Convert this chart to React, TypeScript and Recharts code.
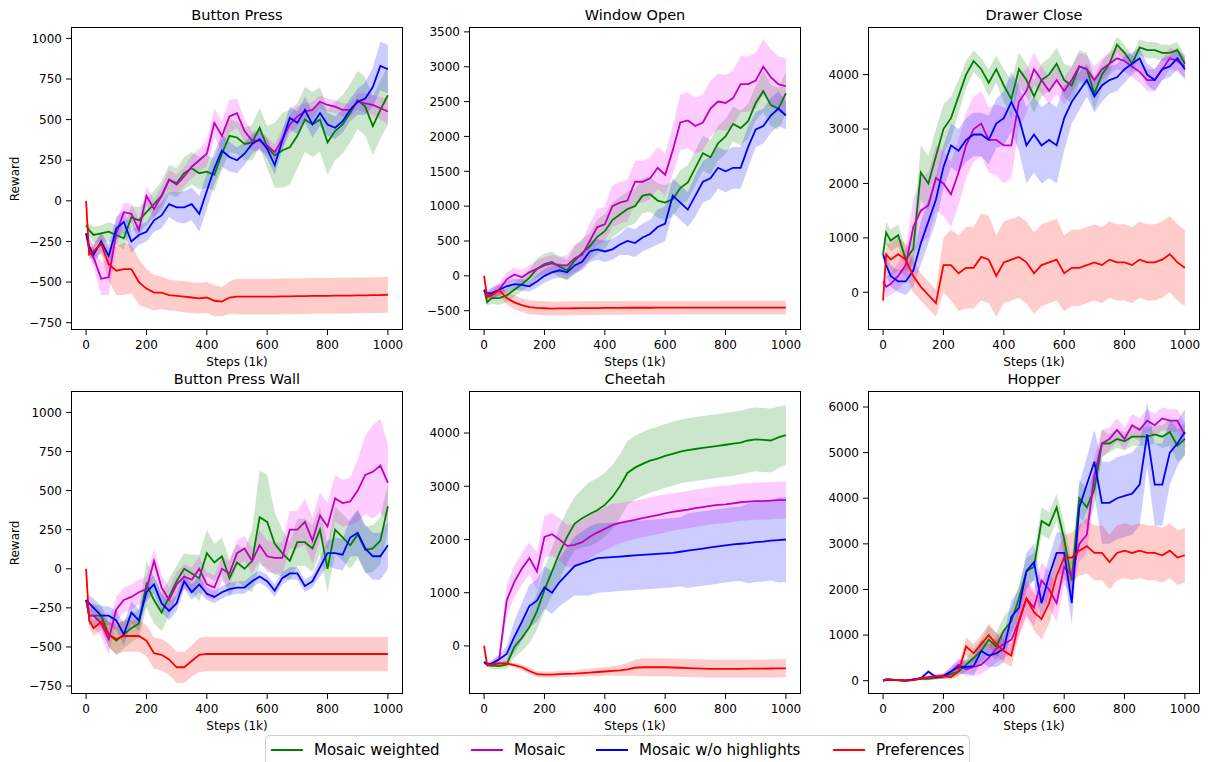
import React from "react";
import { ComposedChart, Line, Area, XAxis, YAxis } from "recharts";

const FONT = "'DejaVu Sans', sans-serif";

// x positions shared by every panel (steps in 1k)
const steps = [
  0, 10,
  25, 50, 75, 100, 125, 150, 175, 200, 225, 250,
  275, 300, 325, 350, 375, 400, 425, 450, 475, 500,
  525, 550, 575, 600, 625, 650, 675, 700, 725, 750,
  775, 800, 825, 850, 875, 900, 925, 950, 975, 1000,
];
const xTicks = [0, 200, 400, 600, 800, 1000];

// ---- Button Press ----
const bpGreen = [-150, -180, -210, -200, -190, -210, -230, -100, -120, -70, -20, 30, 130, 110, 170, 200, 170, 180, 160, 290, 400, 390, 350, 360, 450, 330, 280, 310, 330, 400, 500, 470, 500, 360, 430, 470, 540, 620, 580, 460, 560, 650];
const bpGreenSd = [0, 40, 50, 50, 60, 60, 70, 70, 80, 80, 80, 90, 90, 90, 100, 100, 100, 100, 100, 100, 100, 100, 100, 110, 120, 130, 200, 230, 230, 200, 200, 200, 200, 200, 180, 180, 180, 180, 180, 180, 180, 180];
const bpMosaic = [-200, -300, -350, -480, -470, -200, -70, -80, -180, 30, -50, 30, 130, 100, 150, 210, 250, 290, 480, 400, 520, 540, 430, 370, 370, 340, 300, 380, 470, 520, 550, 560, 610, 590, 580, 560, 560, 610, 600, 590, 570, 550];
const bpMosaicSd = [0, 30, 60, 100, 110, 80, 60, 60, 70, 60, 60, 60, 60, 60, 60, 70, 70, 80, 90, 90, 100, 90, 70, 60, 60, 50, 50, 60, 60, 60, 50, 50, 40, 40, 40, 40, 40, 50, 60, 60, 70, 80];
const bpBlue = [-200, -280, -330, -250, -340, -170, -130, -250, -210, -190, -120, -90, -20, -40, -40, -20, -80, 60, 200, 310, 270, 250, 290, 350, 380, 320, 220, 370, 510, 480, 560, 470, 540, 470, 450, 490, 560, 610, 630, 700, 830, 810];
const bpBlueSd = [0, 40, 60, 60, 70, 70, 70, 70, 60, 60, 70, 80, 80, 90, 100, 100, 110, 110, 100, 100, 90, 80, 70, 60, 60, 60, 60, 60, 70, 70, 80, 80, 80, 70, 70, 70, 70, 80, 100, 120, 150, 150];
const bpPref = [0, -330, -310, -265, -390, -430, -420, -420, -500, -540, -565, -565, -580, -585, -590, -595, -600, -595, -615, -620, -595, -590, -590, -590, -590, -590, -590, -588, -588, -586, -586, -585, -585, -585, -584, -584, -583, -582, -582, -580, -580, -578];
const bpPrefSd = [0, 30, 40, 60, 100, 150, 160, 150, 140, 120, 110, 100, 95, 95, 95, 95, 95, 95, 95, 90, 100, 110, 110, 110, 110, 110, 110, 110, 110, 110, 110, 110, 110, 110, 110, 110, 110, 110, 110, 110, 110, 110];

// ---- Window Open ----
const woGreen = [-200, -380, -320, -320, -280, -200, -120, -30, 100, 170, 200, 130, 80, 220, 330, 420, 560, 640, 800, 880, 960, 1000, 1150, 1170, 1080, 1050, 1100, 1260, 1340, 1550, 1760, 1700, 1900, 2000, 2180, 2120, 2220, 2480, 2650, 2450, 2400, 2620];
const woGreenSd = [0, 50, 80, 100, 100, 100, 100, 120, 150, 150, 150, 150, 150, 200, 200, 200, 250, 250, 250, 250, 250, 250, 250, 250, 250, 250, 250, 250, 250, 250, 250, 250, 250, 250, 250, 250, 250, 250, 300, 300, 300, 300];
const woMosaic = [-200, -300, -250, -200, -50, 20, -20, 50, 100, 150, 180, 150, 150, 250, 300, 500, 700, 740, 1000, 1050, 1080, 1350, 1350, 1400, 1550, 1450, 1800, 2200, 2230, 2150, 2200, 2400, 2500, 2480, 2550, 2750, 2750, 2800, 3000, 2850, 2750, 2720];
const woMosaicSd = [0, 50, 80, 100, 100, 100, 100, 100, 120, 120, 120, 120, 150, 200, 200, 250, 250, 250, 300, 300, 300, 300, 300, 300, 300, 300, 350, 400, 400, 400, 400, 400, 400, 400, 400, 400, 400, 400, 400, 400, 400, 400];
const woBlue = [-200, -250, -250, -200, -150, -120, -130, -150, -80, 0, 50, 80, 50, 150, 200, 350, 380, 350, 380, 450, 500, 470, 550, 600, 700, 750, 1150, 1050, 950, 1150, 1350, 1400, 1550, 1500, 1550, 1550, 1850, 2100, 2150, 2300, 2400, 2300];
const woBlueSd = [0, 50, 80, 80, 80, 80, 80, 80, 90, 100, 100, 100, 100, 120, 120, 150, 150, 150, 150, 150, 200, 200, 200, 200, 250, 250, 250, 250, 250, 300, 300, 300, 300, 300, 300, 300, 300, 250, 250, 250, 250, 200];
const woPref = [0, -300, -280, -206, -320, -380, -420, -450, -460, -465, -470, -468, -466, -465, -463, -462, -462, -460, -460, -460, -458, -458, -458, -458, -457, -457, -457, -456, -456, -456, -456, -456, -456, -455, -455, -455, -455, -455, -455, -455, -455, -455];
const woPrefSd = [0, 40, 60, 80, 90, 100, 100, 100, 100, 100, 100, 100, 100, 100, 100, 100, 100, 100, 100, 100, 100, 100, 100, 100, 100, 100, 100, 100, 100, 100, 100, 100, 100, 100, 100, 100, 100, 100, 100, 100, 100, 100];

// ---- Drawer Close ----
const dcGreen = [700, 1100, 950, 1050, 600, 800, 2200, 2000, 2500, 3000, 3200, 3600, 4000, 4250, 4100, 3850, 4100, 3800, 3550, 4100, 3900, 3600, 3900, 4000, 4200, 3900, 3800, 4150, 4100, 3650, 4000, 4200, 4550, 4400, 4200, 4500, 4450, 4450, 4400, 4400, 4450, 4200];
const dcGreenSd = [0, 200, 200, 200, 200, 300, 500, 500, 500, 450, 400, 300, 250, 200, 200, 250, 250, 300, 350, 300, 300, 300, 300, 300, 300, 300, 350, 300, 300, 300, 250, 200, 150, 150, 150, 150, 150, 150, 150, 150, 150, 150];
const dcMosaic = [200, 100, 150, 300, 500, 1200, 1500, 1600, 2100, 2000, 1800, 2200, 2700, 3000, 3100, 2800, 2800, 2700, 2700, 3500, 3700, 4100, 3900, 3700, 3900, 3700, 3900, 4150, 4100, 3900, 4100, 4200, 4300, 4250, 4150, 4050, 3900, 3900, 4100, 4300, 4250, 4150];
const dcMosaicSd = [0, 200, 200, 250, 300, 500, 600, 600, 600, 600, 600, 600, 600, 600, 600, 600, 650, 700, 600, 500, 400, 300, 250, 250, 250, 250, 250, 250, 250, 250, 200, 200, 200, 200, 200, 200, 200, 200, 200, 200, 200, 200];
const dcBlue = [700, 500, 300, 200, 200, 400, 900, 1300, 1700, 2300, 2700, 2600, 2800, 2900, 2900, 2800, 3100, 3200, 3500, 3200, 2700, 2900, 2700, 2800, 2700, 3200, 3500, 3700, 3900, 3600, 3800, 3900, 3950, 4100, 4200, 4300, 4000, 3900, 4100, 4150, 4300, 4100];
const dcBlueSd = [0, 200, 200, 200, 250, 300, 400, 400, 400, 400, 400, 400, 400, 400, 400, 450, 450, 500, 550, 600, 700, 700, 700, 700, 700, 600, 400, 350, 300, 300, 300, 250, 250, 250, 200, 200, 200, 200, 200, 200, 200, 200];
const dcPref = [-150, 700, 600, 700, 600, 300, 100, -50, -200, 500, 500, 350, 450, 450, 650, 600, 300, 550, 600, 650, 550, 350, 500, 550, 600, 350, 450, 450, 500, 550, 500, 600, 550, 550, 500, 600, 550, 550, 600, 700, 550, 450];
const dcPrefSd = [0, 200, 300, 300, 300, 300, 250, 250, 250, 500, 650, 700, 750, 750, 800, 800, 750, 750, 750, 750, 750, 750, 750, 750, 750, 700, 700, 700, 700, 700, 700, 700, 700, 700, 700, 700, 700, 700, 700, 700, 700, 700];

// ---- Button Press Wall ----
const bwGreen = [-200, -300, -300, -300, -420, -460, -420, -380, -350, -100, -200, -280, -180, -80, 0, -30, -60, 100, 40, 80, -60, 40, 0, 50, 330, 300, 160, 100, 50, 170, 170, 130, 250, 0, 250, 200, 150, 220, 120, 130, 180, 400];
const bwGreenSd = [0, 50, 70, 70, 80, 90, 90, 90, 90, 150, 150, 120, 120, 100, 100, 120, 150, 150, 120, 120, 120, 120, 120, 200, 300, 300, 200, 150, 120, 150, 150, 150, 150, 150, 150, 150, 150, 150, 150, 150, 150, 150];
const bwMosaic = [-200, -300, -300, -350, -450, -260, -200, -180, -150, -130, 50, -120, -200, -100, -50, -70, 0, -100, -120, 0, -30, 100, 130, 50, 150, 80, 70, 70, 250, 250, 300, 180, 340, 270, 450, 420, 430, 500, 600, 620, 660, 550];
const bwMosaicSd = [0, 50, 80, 80, 100, 80, 80, 80, 80, 80, 80, 80, 80, 80, 80, 80, 80, 80, 80, 80, 80, 80, 80, 80, 100, 100, 100, 100, 120, 120, 150, 150, 150, 150, 150, 150, 150, 200, 250, 300, 300, 250];
const bwBlue = [-200, -220, -250, -300, -300, -330, -420, -280, -330, -150, -100, -220, -270, -220, -80, -150, -100, -160, -180, -150, -130, -120, -120, -80, -50, -80, -140, -60, -30, -30, -110, -80, 10, 100, 100, 90, 200, 230, 130, 80, 80, 150];
const bwBlueSd = [0, 50, 60, 60, 60, 60, 70, 70, 70, 60, 60, 60, 60, 50, 50, 50, 50, 40, 40, 40, 40, 40, 40, 40, 40, 40, 40, 40, 40, 40, 40, 40, 60, 80, 100, 100, 120, 150, 150, 150, 150, 150];
const bwPref = [0, -330, -380, -340, -420, -450, -430, -430, -430, -460, -540, -550, -580, -630, -630, -590, -550, -545, -545, -545, -545, -545, -545, -545, -545, -545, -545, -545, -545, -545, -545, -545, -545, -545, -545, -545, -545, -545, -545, -545, -545, -545];
const bwPrefSd = [0, 40, 50, 50, 80, 100, 100, 100, 100, 100, 100, 100, 100, 100, 100, 100, 110, 110, 110, 110, 110, 110, 110, 110, 110, 110, 110, 110, 110, 110, 110, 110, 110, 110, 110, 110, 110, 110, 110, 110, 110, 110];

// ---- Cheetah ----
const chGreen = [-300, -350, -370, -380, -350, -20, 150, 350, 650, 1050, 1400, 1750, 2050, 2300, 2400, 2480, 2550, 2650, 2800, 3000, 3250, 3350, 3420, 3480, 3520, 3570, 3610, 3650, 3680, 3700, 3720, 3740, 3760, 3780, 3800, 3820, 3860, 3880, 3870, 3860, 3920, 3960];
const chGreenSd = [0, 40, 60, 60, 80, 200, 250, 300, 350, 400, 450, 500, 500, 500, 550, 600, 600, 600, 600, 600, 600, 600, 600, 600, 600, 600, 600, 600, 600, 600, 600, 600, 600, 600, 600, 600, 600, 600, 600, 600, 580, 560];
const chMosaic = [-300, -350, -350, -250, 860, 1200, 1450, 1650, 1400, 2050, 2100, 2000, 1880, 1900, 1950, 2050, 2130, 2200, 2270, 2310, 2340, 2370, 2400, 2430, 2460, 2490, 2520, 2540, 2560, 2590, 2610, 2630, 2650, 2660, 2680, 2700, 2710, 2720, 2720, 2730, 2740, 2740];
const chMosaicSd = [0, 40, 50, 100, 300, 300, 300, 300, 350, 400, 400, 400, 400, 400, 400, 400, 400, 400, 400, 380, 370, 360, 360, 360, 360, 360, 350, 350, 350, 350, 350, 350, 350, 350, 350, 350, 350, 350, 350, 350, 350, 350];
const chBlue = [-300, -350, -330, -250, -150, 170, 450, 750, 850, 1100, 1000, 1200, 1350, 1500, 1550, 1600, 1650, 1660, 1670, 1680, 1690, 1700, 1710, 1720, 1730, 1740, 1750, 1770, 1790, 1810, 1830, 1850, 1870, 1890, 1910, 1920, 1930, 1950, 1960, 1980, 1990, 2000];
const chBlueSd = [0, 40, 60, 80, 150, 300, 350, 400, 400, 400, 400, 450, 500, 550, 600, 650, 650, 650, 650, 650, 650, 650, 650, 650, 650, 650, 650, 650, 700, 700, 700, 700, 700, 700, 700, 700, 750, 750, 750, 750, 800, 800];
const chPref = [0, -350, -350, -330, -330, -360, -400, -470, -530, -540, -540, -530, -525, -520, -510, -500, -490, -480, -470, -460, -440, -410, -400, -400, -400, -400, -405, -410, -415, -420, -425, -430, -430, -430, -430, -430, -428, -426, -425, -424, -422, -420];
const chPrefSd = [0, 30, 40, 40, 40, 40, 50, 60, 60, 60, 60, 60, 60, 60, 70, 70, 80, 80, 90, 100, 120, 150, 170, 170, 170, 170, 170, 170, 170, 170, 170, 170, 170, 170, 170, 170, 170, 170, 170, 170, 170, 170];

// ---- Hopper ----
const hpGreen = [0, 20, 20, 10, 0, 20, 40, 40, 60, 90, 150, 200, 350, 500, 650, 900, 750, 1100, 1300, 1800, 2400, 2500, 3500, 3400, 3800, 3100, 2200, 4000, 3800, 4200, 5200, 5200, 5300, 5250, 5350, 5350, 5350, 5400, 5350, 5450, 5150, 5300];
const hpGreenSd = [0, 20, 20, 20, 20, 20, 30, 30, 40, 50, 80, 100, 150, 200, 250, 300, 300, 300, 300, 300, 300, 300, 300, 300, 300, 350, 400, 400, 400, 400, 300, 200, 200, 200, 200, 200, 200, 200, 250, 300, 350, 350];
const hpMosaic = [0, 20, 20, 10, 0, 20, 60, 60, 80, 100, 200, 350, 250, 300, 350, 500, 700, 800, 900, 1300, 1800, 1600, 2200, 2000, 1700, 2500, 2300, 3000, 3200, 4500, 5200, 5300, 5500, 5300, 5600, 5500, 5700, 5600, 5750, 5700, 5700, 5400];
const hpMosaicSd = [0, 20, 20, 20, 20, 20, 30, 30, 40, 60, 100, 150, 150, 200, 200, 250, 300, 300, 300, 350, 400, 400, 400, 400, 400, 400, 400, 400, 400, 400, 300, 250, 250, 250, 250, 250, 250, 250, 250, 250, 250, 250];
const hpBlue = [0, 20, 20, 10, 0, 30, 50, 200, 80, 100, 200, 300, 300, 320, 650, 550, 600, 700, 1400, 1600, 2400, 2600, 1700, 2300, 2800, 2800, 1700, 3800, 4300, 4800, 3900, 3900, 4000, 4050, 4100, 4300, 5400, 4300, 4300, 5000, 5200, 5450];
const hpBlueSd = [0, 20, 20, 20, 20, 20, 30, 40, 40, 60, 100, 150, 150, 200, 250, 250, 300, 300, 350, 400, 400, 400, 400, 400, 450, 450, 450, 500, 600, 700, 900, 900, 900, 900, 900, 900, 700, 900, 900, 700, 500, 500];
const hpPref = [0, 30, 20, 10, 0, 10, 50, 80, 100, 100, 80, 200, 750, 600, 800, 1000, 800, 650, 550, 1300, 1800, 1500, 1350, 1700, 2300, 2700, 2700, 2850, 2950, 2800, 2800, 2600, 2800, 2850, 2800, 2850, 2800, 2800, 2750, 2850, 2700, 2750];
const hpPrefSd = [0, 20, 20, 20, 20, 20, 30, 40, 50, 50, 60, 100, 200, 200, 200, 250, 250, 250, 250, 300, 350, 400, 450, 450, 500, 500, 550, 550, 600, 600, 600, 600, 600, 600, 600, 600, 600, 600, 600, 600, 600, 600];

const COLORS = { g: "#008000", m: "#bf00bf", b: "#0000ff", r: "#ff0000" };
const BANDS = { g: "#008000", m: "#ff00ff", b: "#0000ff", r: "#ff0000" };

function buildRows(g, gs, m, ms, b, bs, r, rs) {
  return steps.map((x, i) => ({
    x,
    g: g[i], gb: [g[i] - gs[i], g[i] + gs[i]],
    m: m[i], mb: [m[i] - ms[i], m[i] + ms[i]],
    b: b[i], bb: [b[i] - bs[i], b[i] + bs[i]],
    r: r[i], rb: [r[i] - rs[i], r[i] + rs[i]],
  }));
}

const panels = [
  {
    title: "Button Press", ylabel: true,
    box: { x: 71, y: 27, w: 332, h: 303 },
    domain: [-795, 1070], ticks: [-750, -500, -250, 0, 250, 500, 750, 1000],
    rows: buildRows(bpGreen, bpGreenSd, bpMosaic, bpMosaicSd, bpBlue, bpBlueSd, bpPref, bpPrefSd),
  },
  {
    title: "Window Open", ylabel: false,
    box: { x: 469, y: 27, w: 332, h: 303 },
    domain: [-777, 3570], ticks: [-500, 0, 500, 1000, 1500, 2000, 2500, 3000, 3500],
    rows: buildRows(woGreen, woGreenSd, woMosaic, woMosaicSd, woBlue, woBlueSd, woPref, woPrefSd),
  },
  {
    title: "Drawer Close", ylabel: false,
    box: { x: 868, y: 27, w: 332, h: 303 },
    domain: [-693, 4875], ticks: [0, 1000, 2000, 3000, 4000],
    rows: buildRows(dcGreen, dcGreenSd, dcMosaic, dcMosaicSd, dcBlue, dcBlueSd, dcPref, dcPrefSd),
  },
  {
    title: "Button Press Wall", ylabel: true,
    box: { x: 71, y: 391, w: 332, h: 303 },
    domain: [-801, 1137], ticks: [-750, -500, -250, 0, 250, 500, 750, 1000],
    rows: buildRows(bwGreen, bwGreenSd, bwMosaic, bwMosaicSd, bwBlue, bwBlueSd, bwPref, bwPrefSd),
  },
  {
    title: "Cheetah", ylabel: false,
    box: { x: 469, y: 391, w: 332, h: 303 },
    domain: [-903, 4790], ticks: [0, 1000, 2000, 3000, 4000],
    rows: buildRows(chGreen, chGreenSd, chMosaic, chMosaicSd, chBlue, chBlueSd, chPref, chPrefSd),
  },
  {
    title: "Hopper", ylabel: false,
    box: { x: 868, y: 391, w: 332, h: 303 },
    domain: [-292, 6351], ticks: [0, 1000, 2000, 3000, 4000, 5000, 6000],
    rows: buildRows(hpGreen, hpGreenSd, hpMosaic, hpMosaicSd, hpBlue, hpBlueSd, hpPref, hpPrefSd),
  },
];

const minus = (v) => String(v).replace("-", "\u2212");
const tickStyle = { fill: "#000", fontSize: 12, fontFamily: FONT };

function Panel({ p }) {
  const { x, y, w, h } = p.box;
  return (
    <>
      <div style={{ position: "absolute", left: x - 60, top: y - 5 }}>
        <ComposedChart width={w + 65} height={h + 45} data={p.rows}
          margin={{ top: 5, right: 5, left: 0, bottom: 0 }}>
          <XAxis dataKey="x" type="number" domain={[-50, 1050]} ticks={xTicks}
            allowDataOverflow height={40} axisLine={false} tickSize={5} tickMargin={5}
            tick={tickStyle} tickLine={{ stroke: "#000" }} interval={0} />
          <YAxis type="number" domain={p.domain} ticks={p.ticks} allowDataOverflow
            width={60} axisLine={false} tickSize={5} tickMargin={4} interval={0}
            tick={tickStyle} tickLine={{ stroke: "#000" }} tickFormatter={minus} />
          {["g", "m", "b", "r"].map((k) => (
            <Area key={k + "b"} dataKey={k + "b"} type="linear" stroke="none"
              fill={BANDS[k]} fillOpacity={0.2} isAnimationActive={false} />
          ))}
          {["g", "m", "b", "r"].map((k) => (
            <Line key={k} dataKey={k} type="linear" stroke={COLORS[k]} strokeWidth={1.8}
              dot={false} isAnimationActive={false} />
          ))}
        </ComposedChart>
      </div>
      <div style={{ position: "absolute", left: x, top: y, width: w, height: h,
        border: "1px solid #000", boxSizing: "border-box", pointerEvents: "none" }} />
      <div style={{ position: "absolute", left: x, top: y - 22, width: w, height: 20,
        lineHeight: "20px", textAlign: "center", fontSize: 14.5, fontWeight: 400,
        fontFamily: FONT }}>
        {p.title}
      </div>
      <div style={{ position: "absolute", left: x, top: y + h + 23, width: w, height: 18,
        lineHeight: "18px", textAlign: "center", fontSize: 12, fontFamily: FONT }}>
        Steps (1k)
      </div>
      {p.ylabel && (
        <div style={{ position: "absolute", left: 15 - 40, top: y + h / 2 - 9, width: 80,
          height: 18, lineHeight: "18px", textAlign: "center", fontSize: 12,
          fontFamily: FONT, transform: "rotate(-90deg)" }}>
          Reward
        </div>
      )}
    </>
  );
}

const legendItems = [
  { label: "Mosaic weighted", color: COLORS.g, x: 5 },
  { label: "Mosaic", color: COLORS.m, x: 205 },
  { label: "Mosaic w/o highlights", color: COLORS.b, x: 330 },
  { label: "Preferences", color: COLORS.r, x: 567 },
];

export default function App() {
  return (
    <div style={{ position: "absolute", left: 0, top: 0, width: 1208, height: 762,
      background: "#fff", overflow: "hidden" }}>
      {panels.map((p) => <Panel key={p.title} p={p} />)}
      <div style={{ position: "absolute", left: 265, top: 735, width: 705, height: 34,
        border: "1px solid #d0d0d0", borderRadius: 4, boxSizing: "border-box",
        background: "#fff" }}>
        {legendItems.map((it) => (
          <div key={it.label} style={{ position: "absolute", left: it.x, top: 4, height: 20,
            display: "flex", alignItems: "center", fontFamily: FONT, fontSize: 15,
            whiteSpace: "nowrap" }}>
            <span style={{ display: "inline-block", width: 32, height: 2,
              background: it.color, marginRight: 11 }} />
            {it.label}
          </div>
        ))}
      </div>
    </div>
  );
}
